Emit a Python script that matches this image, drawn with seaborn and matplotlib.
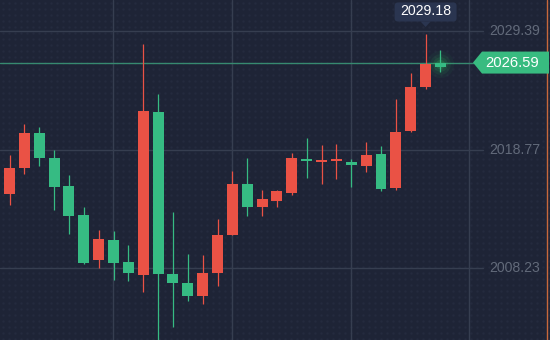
import numpy as np
import matplotlib
matplotlib.use("Agg")
import matplotlib.pyplot as plt
import seaborn as sns
from matplotlib.patches import Polygon, FancyBboxPatch
from matplotlib.transforms import blended_transform_factory

# ---- data ----
idx = list(range(-1, 30))
opens = [2012.00, 2014.86, 2017.16, 2020.29, 2018.05, 2015.55, 2012.96, 2008.93, 2010.72, 2008.75,
         2007.59, 2022.17, 2007.68, 2006.90, 2005.74, 2007.79, 2011.19, 2015.73, 2013.70, 2014.24,
         2014.95, 2017.96, 2017.70, 2017.79, 2017.70, 2017.37, 2018.41, 2015.37, 2020.47, 2024.43,
         2026.59]
highs = [2015.30, 2018.32, 2021.10, 2020.83, 2018.77, 2016.53, 2013.67, 2011.61, 2011.52, 2010.27,
         2028.25, 2023.78, 2013.22, 2009.47, 2009.38, 2012.60, 2016.89, 2018.05, 2015.19, 2015.19,
         2018.50, 2019.84, 2019.22, 2019.31, 2017.96, 2019.49, 2019.13, 2023.33, 2025.66, 2029.18,
         2027.70]
lows = [2011.40, 2013.85, 2016.62, 2017.34, 2013.40, 2011.26, 2008.60, 2008.22, 2007.14, 2007.05,
        2006.07, 2001.20, 2002.94, 2005.29, 2005.02, 2006.63, 2011.19, 2012.89, 2012.89, 2013.70,
        2014.77, 2016.29, 2015.76, 2016.20, 2015.49, 2016.83, 2015.10, 2015.19, 2020.38, 2024.25,
        2025.75]
closes = [2014.87, 2017.16, 2020.29, 2018.05, 2015.46, 2012.87, 2008.66, 2010.81, 2008.66, 2007.77,
          2022.26, 2007.68, 2006.87, 2005.74, 2007.79, 2011.19, 2015.73, 2013.70, 2014.39, 2015.10,
          2018.05, 2017.79, 2017.79, 2017.88, 2017.43, 2018.32, 2015.28, 2020.38, 2024.41, 2026.46,
          2026.23]
grid_levels = [2029.39, 2018.77, 2008.23]
grid_labels = ["2029.39", "2018.77", "2008.23"]
last_price = 2026.59
high_label = "2029.18"

# ---- style ----
BG = "#1e2436"
RED = "#ea5245"
GREEN = "#36bb83"
GRID = "#363e50"
sns.set_theme(style="dark", rc={"axes.facecolor": BG, "figure.facecolor": BG})
plt.rcParams["font.family"] = ["Liberation Sans", "DejaVu Sans"]

W, H = 550, 340
fig = plt.figure(figsize=(W / 100, H / 100), dpi=100)
ax = fig.add_axes([0, 0, 1, 1])
ax.set_facecolor(BG)

step = 14.86
x_left = -9.5 / step
ax.set_xlim(x_left, x_left + W / step)
ppu = 11.18
y_top = 2018.77 + 150 / ppu
ax.set_ylim(y_top - H / ppu, y_top)
ax.axis("off")

def fx(px):
    return px / W

# background dot texture
gx, gy = np.meshgrid(np.arange(3, W, 6), np.arange(3, H, 6))
ax.scatter(gx.ravel() / W, 1 - gy.ravel() / H, s=3.2, color="#242b3e",
           transform=ax.transAxes, linewidths=0, zorder=0)

bt = blended_transform_factory(ax.transAxes, ax.transData)

# grid
for v in grid_levels:
    ax.plot([0, fx(483)], [v, v], transform=bt, color=GRID, lw=1, zorder=1)
for gxi in [7, 15, 23, 31]:
    ax.axvline(gxi - 0.05, color=GRID, lw=1, zorder=1)
ax.axvline(x_left + 547 / step, color="#c8683c", lw=1, zorder=1)

# price line
ax.plot([0, fx(474)], [last_price, last_price], transform=bt, color="#378a70", lw=1, zorder=2)

# glow on last candle
for s, a in [(380, 0.05), (220, 0.08), (110, 0.12), (45, 0.18)]:
    ax.scatter([idx[-1]], [last_price - 0.15], s=s, color="#2fd45f", alpha=a, linewidths=0, zorder=2)

# candles
colors = [RED if c >= o else GREEN for o, c in zip(opens, closes)]
ax.vlines(idx, lows, highs, colors=colors, lw=0.9, zorder=3)
bottoms = [min(o, c) for o, c in zip(opens, closes)]
heights = [max(abs(c - o), 0.14) for o, c in zip(opens, closes)]
ax.bar(idx, heights, bottom=bottoms, width=0.74, color=colors, linewidth=0, zorder=4)

# y labels
for v, lab in zip(grid_levels, grid_labels):
    ax.text(fx(489), v, lab, transform=bt, color="#626a7a", fontsize=10.2,
            ha="left", va="center", zorder=5)

# last price tag
hh = 11 / ppu
tag = Polygon([[fx(473), last_price], [fx(482), last_price + hh], [fx(549), last_price + hh],
               [fx(549), last_price - hh], [fx(482), last_price - hh]],
              closed=True, transform=bt, facecolor="#38bb80", edgecolor="none", zorder=6)
ax.add_patch(tag)
ax.text(fx(512), last_price, f"{last_price:.2f}", transform=bt, color="white",
        fontsize=10.6, ha="center", va="center", zorder=7)

# high tooltip
hi_i = int(np.argmax(highs))
cx = (idx[hi_i] - x_left) * step
box = FancyBboxPatch((fx(cx - 31), 1 - 21.5 / H), 62 / W, 19 / H,
                     boxstyle="round,pad=0,rounding_size=0.006", transform=ax.transAxes,
                     facecolor="#2a3550", edgecolor="none", zorder=6, mutation_aspect=W / H)
ax.add_patch(box)
tri = Polygon([[fx(cx - 5), 1 - 21.5 / H], [fx(cx + 5), 1 - 21.5 / H], [fx(cx), 1 - 27 / H]],
              closed=True, transform=ax.transAxes, facecolor="#2a3550", edgecolor="none", zorder=6)
ax.add_patch(tri)
ax.text(fx(cx), 1 - 11 / H, high_label, transform=ax.transAxes, color="white",
        fontsize=10.2, ha="center", va="center", zorder=7)

fig.savefig("out.png", dpi=100, facecolor=BG)
